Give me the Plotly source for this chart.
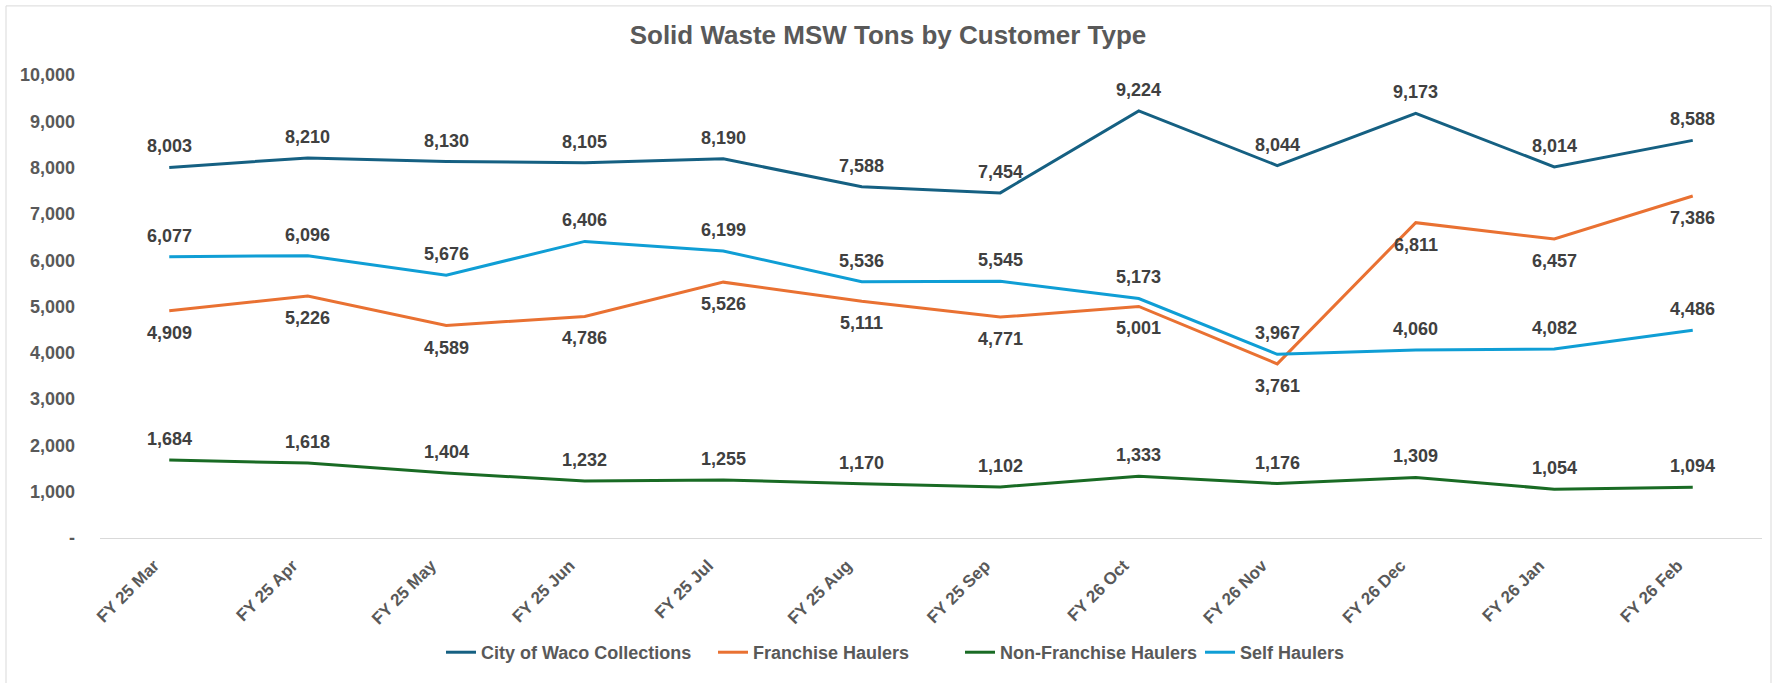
import plotly.graph_objects as go

# Monthly MSW tonnage by customer type
months = ["FY 25 Mar", "FY 25 Apr", "FY 25 May", "FY 25 Jun", "FY 25 Jul", "FY 25 Aug",
          "FY 25 Sep", "FY 26 Oct", "FY 26 Nov", "FY 26 Dec", "FY 26 Jan", "FY 26 Feb"]
city_of_waco = [8003, 8210, 8130, 8105, 8190, 7588, 7454, 9224, 8044, 9173, 8014, 8588]
franchise = [4909, 5226, 4589, 4786, 5526, 5111, 4771, 5001, 3761, 6811, 6457, 7386]
non_franchise = [1684, 1618, 1404, 1232, 1255, 1170, 1102, 1333, 1176, 1309, 1054, 1094]
self_haulers = [6077, 6096, 5676, 6406, 6199, 5536, 5545, 5173, 3967, 4060, 4082, 4486]

y_ticks = [0, 1000, 2000, 3000, 4000, 5000, 6000, 7000, 8000, 9000, 10000]
y_tick_text = ["-"] + [f"{v:,}" for v in y_ticks[1:]]

W, H = 1776, 683
L, R, T, B = 100, 14, 75, 139
plot_w, plot_h = W - L - R, H - T - B

FONT = "Liberation Sans, Arial, sans-serif"
LABEL_COLOR = "#404040"
AXIS_COLOR = "#595959"

series = [
    ("City of Waco Collections", city_of_waco, "#156082", "above", 441),
    ("Franchise Haulers", franchise, "#E97132", "below", 713),
    ("Non-Franchise Haulers", non_franchise, "#196B24", "above", 960),
    ("Self Haulers", self_haulers, "#0F9ED5", "above", 1200),
]

fig = go.Figure()
annotations = []
layout_legends = {}

for i, (name, values, color, side, legend_px) in enumerate(series):
    legend_id = "legend" if i == 0 else f"legend{i + 1}"
    fig.add_trace(go.Scatter(
        x=months, y=values, name=name, mode="lines",
        line=dict(color=color, width=3),
        legend=legend_id, hoverinfo="x+y+name",
    ))
    layout_legends[legend_id] = dict(
        x=(legend_px - L) / plot_w, xanchor="left",
        y=(T + plot_h - 660) / plot_h, yanchor="middle",
        orientation="h", bgcolor="rgba(0,0,0,0)",
        font=dict(family=FONT, size=18, color=AXIS_COLOR, weight="bold"),
        itemwidth=30, tracegroupgap=0,
    )
    shift = 21 if side == "above" else -22
    for m, v in zip(months, values):
        annotations.append(dict(
            x=m, y=v, xref="x", yref="y", text=f"{v:,}", showarrow=False,
            yshift=shift, xanchor="center", yanchor="middle",
            font=dict(family=FONT, size=18, color=LABEL_COLOR, weight="bold"),
        ))

# Light chart-area border
border = dict(
    type="rect", xref="paper", yref="paper", layer="below",
    x0=(6 - L) / plot_w, x1=(1771 - L) / plot_w,
    y0=(T + plot_h - 700) / plot_h, y1=(T + plot_h - 5) / plot_h,
    line=dict(color="#D9D9D9", width=1), fillcolor="rgba(0,0,0,0)",
)

fig.update_layout(
    width=W, height=H,
    margin=dict(l=L, r=R, t=T, b=B, pad=0),
    paper_bgcolor="white", plot_bgcolor="white",
    title=dict(
        text="Solid Waste MSW Tons by Customer Type",
        x=0.5, xanchor="center", xref="container",
        y=1 - 35 / H, yanchor="middle", yref="container",
        font=dict(family=FONT, size=26, color=AXIS_COLOR, weight="bold"),
    ),
    xaxis=dict(
        type="category", range=[-0.5, len(months) - 0.5],
        showgrid=False, zeroline=False,
        showline=True, linecolor="#D9D9D9", linewidth=1,
        ticks="", tickangle=-45, ticklabelstandoff=10, ticklabelshift=-15,
        tickfont=dict(family=FONT, size=17, color=AXIS_COLOR, weight="bold"),
    ),
    yaxis=dict(
        range=[0, 10000], tickvals=y_ticks, ticktext=y_tick_text,
        showgrid=False, zeroline=False, showline=False,
        ticks="", ticklabelstandoff=24,
        tickfont=dict(family=FONT, size=18, color=AXIS_COLOR, weight="bold"),
    ),
    annotations=annotations,
    shapes=[border],
    showlegend=True,
    **layout_legends,
)

fig.write_html("out.html")
